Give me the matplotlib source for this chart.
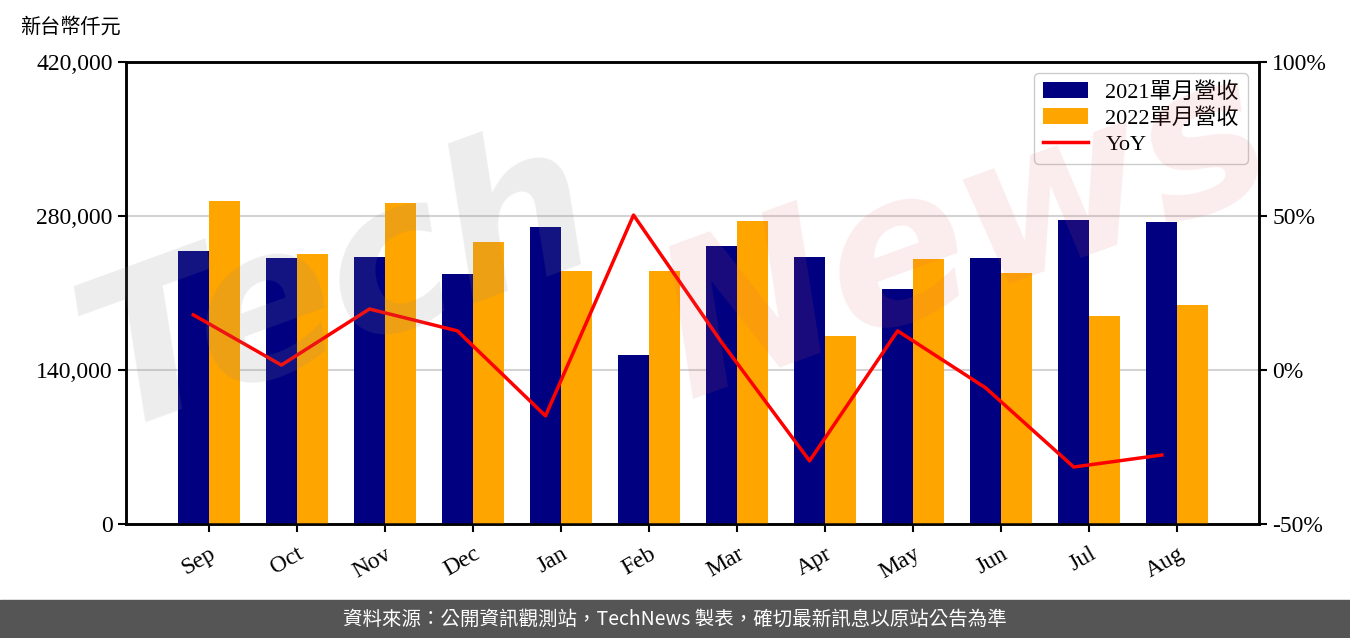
import numpy as np
import matplotlib
matplotlib.use('Agg')
import matplotlib.pyplot as plt
from matplotlib.ticker import FuncFormatter

# 月份與營收（新台幣仟元）
months = ['Sep', 'Oct', 'Nov', 'Dec', 'Jan', 'Feb', 'Mar', 'Apr', 'May', 'Jun', 'Jul', 'Aug']
rev_2021 = [248200, 241800, 242700, 227300, 270000, 153600, 252700, 242700, 213600, 241800, 276400, 274500]
rev_2022 = [293600, 245500, 291800, 256400, 230000, 230000, 275500, 170900, 240900, 228200, 189100, 199100]
yoy = [17.9, 1.6, 19.8, 12.7, -14.9, 50.3, 9.0, -29.5, 12.7, -5.8, -31.5, -27.6]

left_ticks = [0, 140000, 280000, 420000]
right_ticks = [-50, 0, 50, 100]

serif = ['Liberation Serif', 'Noto Sans CJK TC']
plt.rcParams['font.family'] = serif

fig = plt.figure(figsize=(13.5, 6.38), dpi=100)
ax = fig.add_axes([126/1350, 1 - 524/638, (1259-126)/1350, (524-62)/638])
ax2 = ax.twinx()

x = np.arange(len(months))
w = 0.35
ax.bar(x - w/2, rev_2021, w, color='#000080', label='2021單月營收', zorder=3)
ax.bar(x + w/2, rev_2022, w, color='#FFA500', label='2022單月營收', zorder=3)
ln, = ax2.plot(x - w/2, yoy, color='red', lw=2.5, label='YoY', zorder=4)

ax.set_xlim(-0.94, 11.93)
ax.set_ylim(0, 420000)
ax.set_yticks(left_ticks)
ax.yaxis.set_major_formatter(FuncFormatter(lambda v, p: f'{int(v):,}'))
ax.set_xticks(x)
ax.set_xticklabels(months, rotation=30, ha='right', rotation_mode='anchor')
ax.grid(axis='y', color='#d3d3d3', lw=1.5, zorder=0)
ax.tick_params(labelsize=17, length=6, width=1.5)
ax.tick_params(axis='x', pad=8)

ax2.set_ylim(-50, 100)
ax2.set_yticks(right_ticks)
ax2.yaxis.set_major_formatter(FuncFormatter(lambda v, p: f'{int(v)}%'))
ax2.tick_params(labelsize=17, length=6, width=1.5)

for a in (ax, ax2):
    for s in a.spines.values():
        s.set_linewidth(1.8)

h1, l1 = ax.get_legend_handles_labels()
leg = ax2.legend(h1 + [ln], l1 + ['YoY'], loc='upper right', fontsize=16,
                 frameon=True, edgecolor='#cccccc', framealpha=1,
                 handlelength=2.0, borderpad=0.4, labelspacing=0.25)
leg.set_zorder(10)

fig.text(20/1350, 1 - 27/638, '新台幣仟元', fontsize=14.5, va='center', ha='left',
         family=['Noto Sans CJK TC'])

# 浮水印
fig.text(0.46, 0.55, 'Tech', fontsize=150, color='#888888', alpha=0.15,
         rotation=20, ha='right', va='center', style='italic', weight='bold',
         family=['DejaVu Sans'], zorder=20)
fig.text(0.47, 0.63, 'News', fontsize=150, color='#e06666', alpha=0.12,
         rotation=20, ha='left', va='center', style='italic', weight='bold',
         family=['DejaVu Sans'], zorder=20)

# 頁尾
fig.patches.append(plt.Rectangle((0, 0), 1, 38/638, transform=fig.transFigure,
                                 color='#555555', zorder=0))
fig.text(0.5, 19/638, '資料來源：公開資訊觀測站，TechNews 製表，確切最新訊息以原站公告為準',
         color='white', fontsize=14, ha='center', va='center',
         family=['Noto Sans CJK TC', 'DejaVu Sans'])

fig.savefig('out.png', dpi=100)
